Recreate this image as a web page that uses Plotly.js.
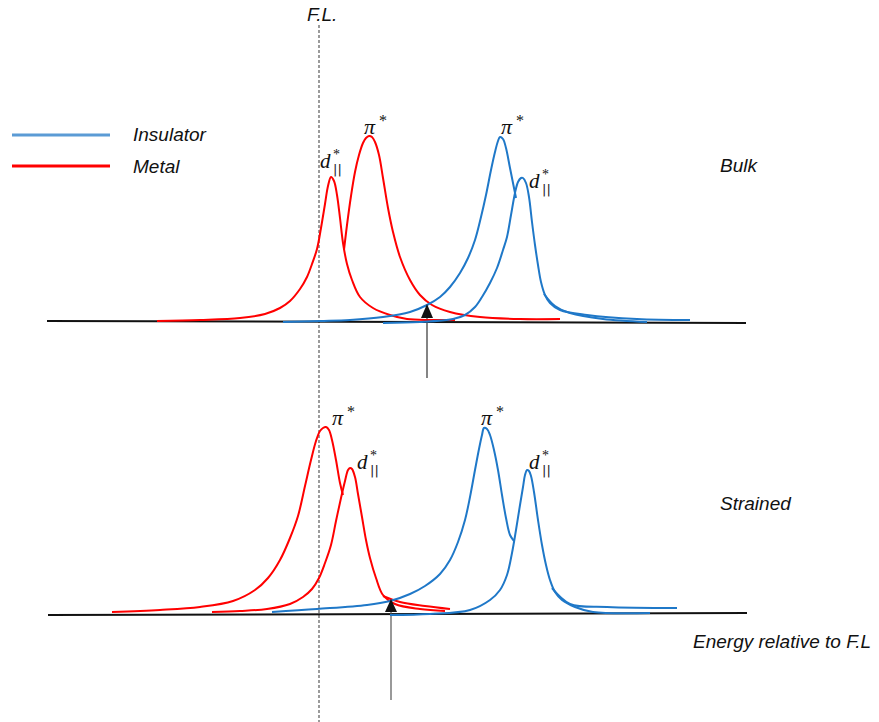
<!DOCTYPE html>
<html>
<head>
<meta charset="utf-8">
<script src="https://cdn.plot.ly/plotly-3.0.1.min.js"></script>
<style>html,body{margin:0;padding:0;background:#fff;}#chart{width:879px;height:722px;}</style>
</head>
<body>
<div id="chart"></div>
<script>
// Schematic coordinates (x: energy position, y: drawn height; y grows downward)
// ---- Bulk panel ----
var bulkMetalD_x = [157, 200, 240, 265, 280, 290, 300, 307, 312, 317, 321, 325, 328, 331, 334, 337, 340, 343, 347, 352, 360, 373, 390, 407, 430, 455];
var bulkMetalD_y = [321, 320, 318, 314, 308, 301, 289, 277, 264, 249, 228, 204, 186, 177, 181, 195, 218, 243, 264, 280, 297, 308, 315, 319, 320, 320];
var bulkMetalPi_x = [344, 347, 351, 355, 359, 363, 366, 369, 372, 375, 379, 383, 388, 393, 400, 410, 420, 432, 450, 480, 520, 560];
var bulkMetalPi_y = [250, 225, 196, 172, 155, 143, 138, 136, 137, 142, 155, 178, 208, 232, 257, 280, 295, 305, 312, 317, 319, 319];
var bulkInsPi_x = [283, 320, 350, 383, 410, 427, 440, 450, 460, 468, 475, 481, 486, 491, 495, 498, 500, 503, 506, 510, 516];
var bulkInsPi_y = [322, 321, 320, 317, 312, 305, 297, 287, 273, 258, 240, 217, 195, 170, 152, 141, 137, 139, 148, 168, 198];
var bulkInsPiTail_x = [544, 555, 570, 603, 647];
var bulkInsPiTail_y = [294, 306, 313, 319, 322];
var bulkInsD_x = [383, 420, 453, 465, 475, 482, 490, 497, 503, 507, 511, 515, 518, 521, 523, 526, 529, 532, 535, 538, 541, 545, 550, 560, 587, 637, 690];
var bulkInsD_y = [323, 322, 319, 315, 307, 297, 283, 268, 250, 237, 215, 193, 182, 178, 178, 183, 197, 222, 245, 265, 282, 295, 303, 310, 315, 319, 320];
// ---- Strained panel ----
var strMetalPi_x = [112, 160, 200, 233, 255, 268, 280, 290, 298, 305, 311, 316, 320, 323, 326, 329, 332, 336, 340, 343];
var strMetalPi_y = [612, 610, 607, 601, 590, 578, 560, 538, 516, 486, 460, 441, 431, 428, 427, 430, 440, 460, 483, 495];
var strMetalPiTail_x = [383, 400, 425, 450];
var strMetalPiTail_y = [596, 602, 606, 609];
var strMetalD_x = [212, 240, 267, 290, 303, 312, 319, 325, 331, 336, 341, 345, 348, 350, 352, 355, 358, 362, 366, 370, 376, 383, 395, 420, 445];
var strMetalD_y = [612, 611, 609, 604, 597, 589, 578, 563, 545, 521, 498, 481, 470, 468, 469, 477, 494, 517, 540, 558, 578, 595, 604, 609, 611];
var strInsPi_x = [272, 317, 367, 390, 410, 425, 440, 450, 458, 465, 470, 475, 479, 482, 484, 487, 490, 494, 498, 502, 506, 510, 514];
var strInsPi_y = [612, 609, 605, 601, 594, 586, 574, 560, 542, 520, 497, 470, 449, 435, 428, 429, 435, 450, 470, 495, 518, 535, 541];
var strInsPiTail_x = [552, 570, 607, 677];
var strInsPiTail_y = [588, 604, 607, 608];
var strInsD_x = [390, 430, 470, 490, 500, 507, 512, 516, 520, 523, 525, 527, 529, 531, 534, 538, 542, 546, 550, 555, 562, 575, 593, 650];
var strInsD_y = [615, 614, 610, 600, 590, 575, 553, 530, 505, 487, 475, 470, 471, 476, 492, 520, 545, 565, 580, 592, 600, 607, 612, 613];
// baselines, Fermi level and arrows
var baseTop_x = [47, 746], baseTop_y = [321, 323];
var baseBot_x = [48, 747], baseBot_y = [615, 613];
var fermi_x = [319, 319], fermi_y = [25, 722];
var arrowTop_x = [427, 427], arrowTop_y = [378, 316];
var arrowBot_x = [391, 391], arrowBot_y = [700, 610];
var legendLabels = ["Insulator", "Metal"];
var panelLabels = ["Bulk", "Strained"];

var RED = "#ff0000", BLUE = "#1f78c8";
function curve(x, y, color) {
  return {x: x, y: y, type: "scatter", mode: "lines", hoverinfo: "skip",
          line: {color: color, width: 2, shape: "spline", smoothing: 1.0}};
}
function straight(x, y, color, width, dash) {
  return {x: x, y: y, type: "scatter", mode: "lines", hoverinfo: "skip",
          line: {color: color, width: width, dash: dash || "solid"}};
}
var traces = [
  straight(fermi_x, fermi_y, "#666", 1.3, "3px,2px"),
  straight(baseTop_x, baseTop_y, "#111", 2),
  straight(baseBot_x, baseBot_y, "#111", 2),
  straight(arrowTop_x, arrowTop_y, "#333", 1.2),
  straight(arrowBot_x, arrowBot_y, "#555", 1.2),
  curve(bulkMetalD_x, bulkMetalD_y, RED),
  curve(bulkMetalPi_x, bulkMetalPi_y, RED),
  curve(bulkInsPi_x, bulkInsPi_y, BLUE),
  curve(bulkInsPiTail_x, bulkInsPiTail_y, BLUE),
  curve(bulkInsD_x, bulkInsD_y, BLUE),
  curve(strMetalPi_x, strMetalPi_y, RED),
  curve(strMetalPiTail_x, strMetalPiTail_y, RED),
  curve(strMetalD_x, strMetalD_y, RED),
  curve(strInsPi_x, strInsPi_y, BLUE),
  curve(strInsPiTail_x, strInsPiTail_y, BLUE),
  curve(strInsD_x, strInsD_y, BLUE)
];

var sans = {family: "Liberation Sans, Arial, sans-serif", size: 19, color: "#111"};
var serif = {family: "Liberation Serif, DejaVu Serif, serif", size: 22, color: "#111"};
function txt(x, y, text, font, xa) {
  return {x: x, y: y, xref: "x", yref: "y", text: text, showarrow: false,
          xanchor: xa || "left", yanchor: "middle", font: font};
}
function piLabel(x, y) {
  return [
    txt(x + 3, y + 1, "<i>π</i>", serif, "right"),
    txt(x + 2, y - 5, "*", {family: serif.family, size: 16, color: "#111"}, "left")
  ];
}
function dLabel(x, y) {
  return [
    txt(x, y, "<i>d</i>", {family: serif.family, size: 21, color: "#111"}, "left"),
    txt(x + 13, y - 7, "*", {family: serif.family, size: 14, color: "#111"}, "left"),
    txt(x + 13, y + 8, "||", {family: "DejaVu Sans, sans-serif", size: 13, color: "#222"}, "left")
  ];
}
var annotations = [
  txt(305, 14, "<i>F.L.</i>", sans, "left"),
  txt(131, 134, "<i>" + legendLabels[0] + "</i>", sans, "left"),
  txt(131, 166, "<i>" + legendLabels[1] + "</i>", sans, "left"),
  txt(718, 165, "<i>" + panelLabels[0] + "</i>", sans, "left"),
  txt(718, 503, "<i>" + panelLabels[1] + "</i>", sans, "left"),
  txt(691, 641, "<i>Energy relative to F.L</i>", sans, "left")
].concat(piLabel(375, 125), piLabel(512, 125), piLabel(343, 416), piLabel(492, 416),
         dLabel(318, 161), dLabel(527, 181), dLabel(355, 462), dLabel(527, 462));

var shapes = [
  {type: "line", xref: "x", yref: "y", x0: 12, x1: 110, y0: 135, y1: 135, line: {color: "#5b9bd5", width: 3}},
  {type: "line", xref: "x", yref: "y", x0: 12, x1: 110, y0: 166, y1: 166, line: {color: RED, width: 3}},
  {type: "path", xref: "x", yref: "y", path: "M 421,318 L 433,318 L 427,304 Z", fillcolor: "#111", line: {width: 0}},
  {type: "path", xref: "x", yref: "y", path: "M 385,612 L 397,612 L 391,599 Z", fillcolor: "#111", line: {width: 0}}
];

var layout = {
  width: 879, height: 722, margin: {l: 0, r: 0, t: 0, b: 0},
  paper_bgcolor: "#fff", plot_bgcolor: "#fff", showlegend: false,
  xaxis: {range: [0, 879], visible: false, fixedrange: true},
  yaxis: {range: [722, 0], visible: false, fixedrange: true},
  annotations: annotations, shapes: shapes
};
Plotly.newPlot("chart", traces, layout, {staticPlot: true, displayModeBar: false});
</script>
</body>
</html>
